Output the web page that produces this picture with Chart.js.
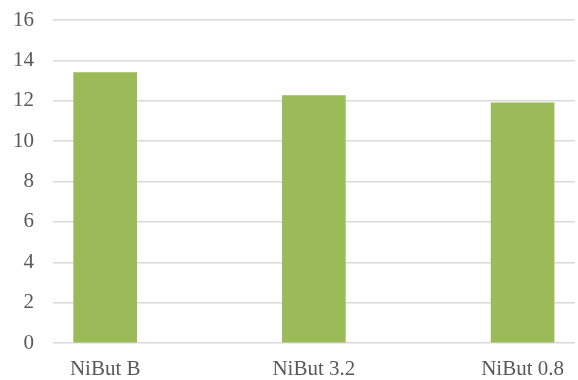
<!DOCTYPE html>
<html>
<head>
<meta charset="utf-8">
<script src="https://cdn.jsdelivr.net/npm/chart.js@4/dist/chart.umd.min.js"></script>
<style>
    html, body { margin: 0; padding: 0; background: #fff; }
    #wrap { width: 578px; height: 380px; }
</style>
</head>
<body>
<div id="wrap"><canvas id="barChart"></canvas></div>
<script>
// data
const categories = ['NiBut B', 'NiBut 3.2', 'NiBut 0.8'];
const values = [13.4, 12.25, 11.9];
const yTicks = [0, 2, 4, 6, 8, 10, 12, 14, 16];

const font = { family: "'Liberation Serif', 'DejaVu Serif', serif", size: 21 };

var barChart = new Chart(document.getElementById('barChart'), {
    type: 'bar',
    data: {
        datasets: [{
            data: values.map((v, i) => { return { x: i, y: v } }),
            backgroundColor: '#9bbb59',
            borderWidth: 0,
            barThickness: 63
        }]
    },
    options: {
        responsive: true,
        maintainAspectRatio: false,
        animation: false,
        layout: {
            padding: 0
        },
        plugins: {
            legend: { display: false },
            tooltip: { enabled: false }
        },
        scales: {
            x: {
                type: 'linear',
                offset: false,
                bounds: 'data',
                min: -0.25,
                max: 2.25,
                afterBuildTicks: scale => {
                    scale.ticks = categories.map((c, i) => { return { value: i } });
                },
                afterFit: scale => {
                    scale.height = 37;
                },
                grid: { display: false, drawTicks: false },
                border: { display: false },
                ticks: {
                    color: '#595959',
                    font: font,
                    padding: 14,
                    maxRotation: 0,
                    callback: v => categories[v]
                }
            },
            y: {
                min: 0,
                max: 16,
                afterBuildTicks: scale => {
                    scale.ticks = yTicks.map(v => { return { value: v } });
                },
                // plot starts at x=53, top at y=20
                afterFit: scale => {
                    scale.width = 53;
                    scale.paddingTop = 20;
                    scale.paddingBottom = 0;
                },
                grid: { color: '#d9d9d9', lineWidth: 1.5, drawTicks: false },
                border: { display: false },
                ticks: {
                    color: '#595959',
                    font: font,
                    padding: 19
                }
            }
        }
    }
});
</script>
</body>
</html>
